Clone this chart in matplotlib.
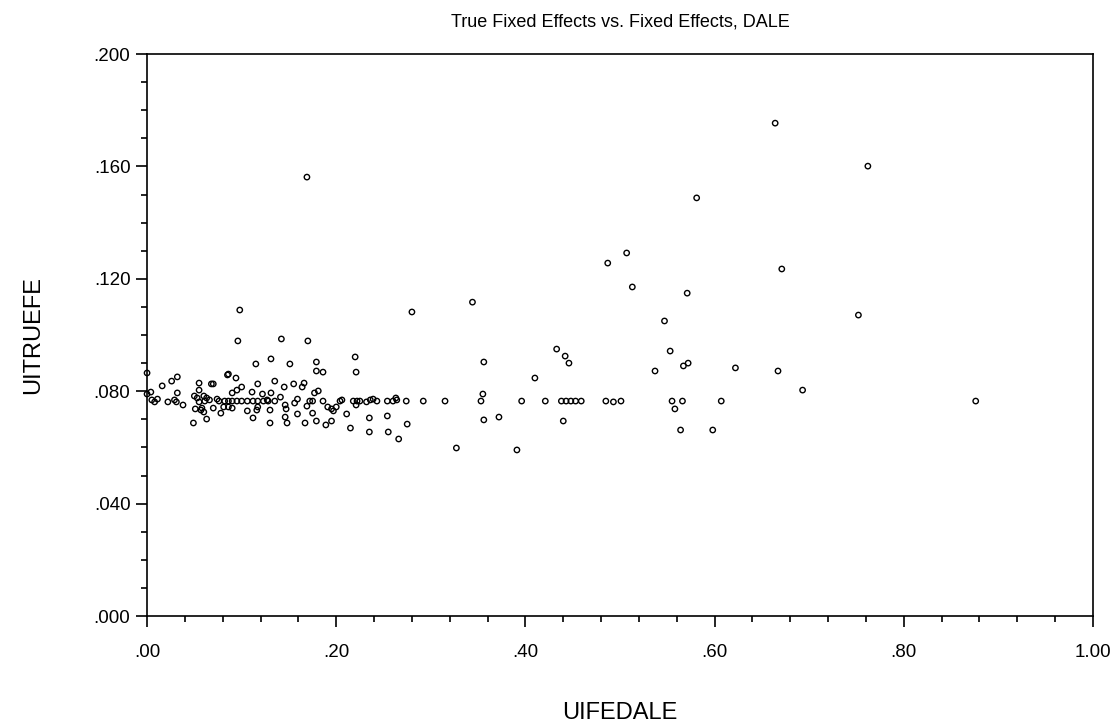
import matplotlib
matplotlib.use("Agg")
import matplotlib.pyplot as plt
from matplotlib.ticker import MultipleLocator, FuncFormatter

# UIFEDALE (x) and UITRUEFE (y)
uifedale = [
    # dense group near zero
    0.000, 0.000, 0.004, 0.005, 0.008, 0.011, 0.016, 0.022, 0.026, 0.032,
    0.032, 0.029, 0.031, 0.038, 0.049, 0.050, 0.051, 0.053, 0.055, 0.055,
    0.055, 0.057, 0.058, 0.060, 0.061, 0.063, 0.060, 0.063, 0.066, 0.068,
    0.070, 0.070, 0.074, 0.076, 0.078, 0.081, 0.082, 0.085,
    # 0.09 - 0.18
    0.096, 0.142, 0.170, 0.115, 0.131, 0.151, 0.179, 0.086, 0.094, 0.100,
    0.090, 0.117, 0.135, 0.145, 0.155, 0.166, 0.164, 0.095, 0.111, 0.122,
    0.131, 0.086, 0.090, 0.095, 0.100, 0.106, 0.112, 0.117, 0.123, 0.128,
    0.135, 0.090, 0.086, 0.106, 0.116, 0.117, 0.127, 0.130, 0.141, 0.146,
    0.147, 0.159, 0.156, 0.169, 0.172, 0.112, 0.130, 0.146, 0.148, 0.159,
    0.167, 0.175, 0.098, 0.169,
    # 0.18 - 0.28
    0.179, 0.186, 0.220, 0.221, 0.177, 0.181, 0.175, 0.186, 0.204, 0.206,
    0.218, 0.222, 0.225, 0.232, 0.236, 0.239, 0.243, 0.254, 0.260, 0.263,
    0.264, 0.274, 0.179, 0.191, 0.195, 0.197, 0.200, 0.189, 0.195, 0.211,
    0.221, 0.215, 0.235, 0.235, 0.254, 0.255, 0.275, 0.266,
    # 0.28 - 0.40
    0.280, 0.344, 0.356, 0.355, 0.353, 0.292, 0.315, 0.356, 0.372, 0.327,
    0.391,
    # right side
    0.664, 0.581, 0.507, 0.487, 0.671, 0.513, 0.571, 0.547, 0.553, 0.433,
    0.442, 0.446, 0.537, 0.567, 0.572, 0.622, 0.667, 0.693, 0.410, 0.396,
    0.421, 0.438, 0.443, 0.448, 0.453, 0.459, 0.485, 0.493, 0.501, 0.555,
    0.566, 0.607, 0.558, 0.440, 0.564, 0.598, 0.752, 0.762, 0.876,
]
uitruefe = [
    0.0865, 0.0790, 0.0797, 0.0769, 0.0762, 0.0772, 0.0819, 0.0762, 0.0836, 0.0851,
    0.0794, 0.0769, 0.0762, 0.0751, 0.0687, 0.0783, 0.0737, 0.0776, 0.0829, 0.0804,
    0.0762, 0.0733, 0.0740, 0.0783, 0.0765, 0.0701, 0.0726, 0.0776, 0.0769, 0.0826,
    0.0826, 0.0740, 0.0772, 0.0765, 0.0722, 0.0744, 0.0765, 0.0858,
    0.0979, 0.0986, 0.0979, 0.0897, 0.0915, 0.0897, 0.0904, 0.0861, 0.0847, 0.0815,
    0.0794, 0.0826, 0.0836, 0.0815, 0.0826, 0.0829, 0.0815, 0.0804, 0.0797, 0.0790,
    0.0794, 0.0765, 0.0765, 0.0765, 0.0765, 0.0765, 0.0765, 0.0765, 0.0765, 0.0765,
    0.0765, 0.0740, 0.0744, 0.0730, 0.0733, 0.0744, 0.0769, 0.0733, 0.0779, 0.0751,
    0.0737, 0.0772, 0.0758, 0.0747, 0.0765, 0.0705, 0.0687, 0.0708, 0.0687, 0.0719,
    0.0687, 0.0722, 0.1089, 0.1562,
    0.0872, 0.0868, 0.0922, 0.0868, 0.0794, 0.0801, 0.0765, 0.0765, 0.0765, 0.0769,
    0.0765, 0.0765, 0.0765, 0.0762, 0.0769, 0.0772, 0.0765, 0.0765, 0.0765, 0.0776,
    0.0769, 0.0765, 0.0694, 0.0744, 0.0737, 0.0730, 0.0744, 0.0680, 0.0694, 0.0719,
    0.0751, 0.0669, 0.0705, 0.0655, 0.0712, 0.0655, 0.0683, 0.0630,
    0.1082, 0.1117, 0.0904, 0.0790, 0.0765, 0.0765, 0.0765, 0.0698, 0.0708, 0.0598,
    0.0591,
    0.1754, 0.1488, 0.1292, 0.1256, 0.1235, 0.1171, 0.1149, 0.1050, 0.0943, 0.0950,
    0.0925, 0.0900, 0.0872, 0.0890, 0.0900, 0.0883, 0.0872, 0.0804, 0.0847, 0.0765,
    0.0765, 0.0765, 0.0765, 0.0765, 0.0765, 0.0765, 0.0765, 0.0762, 0.0765, 0.0765,
    0.0765, 0.0765, 0.0737, 0.0694, 0.0662, 0.0662, 0.1071, 0.1601, 0.0765,
]

title = "True Fixed Effects vs. Fixed Effects, DALE"
x_label = "UIFEDALE"
y_label = "UITRUEFE"

plt.rcParams['font.family'] = ['Liberation Sans', 'DejaVu Sans']

fig = plt.figure(figsize=(11.2, 7.28), dpi=100)
ax = fig.add_axes([0.1313, 0.1538, 0.8446, 0.772])

ax.scatter(uifedale, uitruefe, s=15, facecolors='none', edgecolors='black',
           linewidths=1.0, clip_on=False, zorder=3)

ax.set_xlim(0, 1.0)
ax.set_ylim(0, 0.2)

ax.xaxis.set_major_locator(MultipleLocator(0.2))
ax.xaxis.set_minor_locator(MultipleLocator(0.04))
ax.yaxis.set_major_locator(MultipleLocator(0.04))
ax.yaxis.set_minor_locator(MultipleLocator(0.01))

def fmt_x(v, pos):
    s = "%.2f" % v
    return s[1:] if s.startswith("0") else s

def fmt_y(v, pos):
    s = "%.3f" % v
    return s[1:] if s.startswith("0") else s

ax.xaxis.set_major_formatter(FuncFormatter(fmt_x))
ax.yaxis.set_major_formatter(FuncFormatter(fmt_y))

ax.tick_params(which='major', direction='out', length=8, width=1.2,
               labelsize=13.5, pad=4, colors='black')
ax.tick_params(which='minor', direction='out', length=4.5, width=1.2)
ax.tick_params(axis='x', which='major', pad=12)

for sp in ax.spines.values():
    sp.set_linewidth(1.2)
    sp.set_color('black')

ax.set_title(title, fontsize=13, pad=20)
ax.set_xlabel(x_label, fontsize=17, labelpad=30)
ax.set_ylabel(y_label, fontsize=17, labelpad=36)

fig.savefig("out.png", dpi=100, facecolor='white')
